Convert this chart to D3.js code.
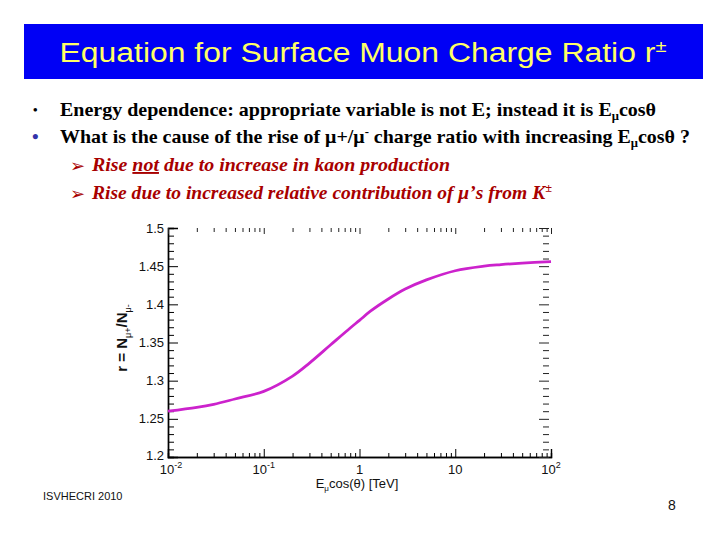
<!DOCTYPE html>
<html>
<head>
<meta charset="utf-8">
<script src="https://cdn.jsdelivr.net/npm/d3@7"></script>
<style>
  html,body{margin:0;padding:0;background:#fff;}
  svg{display:block;}
</style>
</head>
<body>
<svg id="chart" width="720" height="540"></svg>
<script>
// ---- data ----
const energies = [0.01, 0.02, 0.03, 0.05, 0.1, 0.2, 0.3, 0.5, 0.8, 1, 1.3, 2, 3, 5, 10, 20, 30, 50, 100];
const ratios   = [1.260, 1.265, 1.269, 1.276, 1.286, 1.306, 1.323, 1.347, 1.369, 1.379, 1.391, 1.407, 1.420, 1.432, 1.444, 1.450, 1.452, 1.454, 1.456];
const xMajorTicks = [0.01, 0.1, 1, 10, 100];
const xTickLabels = [["10","-2"],["10","-1"],["1",""],["10",""],["10","2"]];
const yMajorTicks = [1.2, 1.25, 1.3, 1.35, 1.4, 1.45, 1.5];
const yTickLabels = ["1.2","1.25","1.3","1.35","1.4","1.45","1.5"];

const svg = d3.select("#chart");

// ---- title bar ----
svg.append("rect").attr("x",24).attr("y",24).attr("width",679).attr("height",55).attr("fill","#0000F5");
const tt = svg.append("text").attr("x",363).attr("y",62).attr("text-anchor","middle")
  .attr("font-family","Liberation Sans, Arial, sans-serif").attr("font-size",27).attr("fill","#FFFF66")
  .attr("textLength",607).attr("lengthAdjust","spacingAndGlyphs");
tt.append("tspan").text("Equation for Surface Muon Charge Ratio r");
tt.append("tspan").attr("font-size",17).attr("dy",-10).text("±");

// ---- bullet text ----
const serif = "Liberation Serif, Times New Roman, serif";
svg.append("text").attr("x",33).attr("y",114).attr("font-family",serif).attr("font-size",13).attr("font-weight","bold").text("•");
svg.append("text").attr("x",32).attr("y",143).attr("font-family",serif).attr("font-size",19).attr("font-weight","bold").attr("fill","#3333aa").text("•");

const l1 = svg.append("text").attr("x",60).attr("y",116).attr("font-family",serif).attr("font-size",19).attr("font-weight","bold")
  .attr("textLength",596).attr("lengthAdjust","spacingAndGlyphs");
l1.append("tspan").text("Energy dependence: appropriate variable  is not E; instead it is E");
l1.append("tspan").attr("font-size",12).attr("dy",4).text("μ");
l1.append("tspan").attr("dy",-4).text("cosθ");

const l2 = svg.append("text").attr("x",60).attr("y",143).attr("font-family",serif).attr("font-size",19).attr("font-weight","bold")
  .attr("textLength",630).attr("lengthAdjust","spacingAndGlyphs");
l2.append("tspan").text("What is the cause of the rise of μ+/μ");
l2.append("tspan").attr("font-size",12).attr("dy",-7).text("-");
l2.append("tspan").attr("dy",7).text(" charge ratio with increasing E");
l2.append("tspan").attr("font-size",12).attr("dy",4).text("μ");
l2.append("tspan").attr("dy",-4).text("cosθ ?");

const red = "#A80000";
svg.append("text").attr("x",70).attr("y",172).attr("font-family","DejaVu Sans, sans-serif").attr("font-size",18).attr("fill",red).text("➢");
svg.append("text").attr("x",70).attr("y",200).attr("font-family","DejaVu Sans, sans-serif").attr("font-size",18).attr("fill",red).text("➢");

const l3 = svg.append("text").attr("x",92).attr("y",171).attr("font-family",serif).attr("font-size",19).attr("font-weight","bold")
  .attr("font-style","italic").attr("fill",red).attr("textLength",358).attr("lengthAdjust","spacingAndGlyphs");
l3.append("tspan").text("Rise ");
l3.append("tspan").attr("text-decoration","underline").text("not");
l3.append("tspan").text(" due to increase in kaon production");

const l4 = svg.append("text").attr("x",92).attr("y",199).attr("font-family",serif).attr("font-size",19).attr("font-weight","bold")
  .attr("font-style","italic").attr("fill",red).attr("textLength",460).attr("lengthAdjust","spacingAndGlyphs");
l4.append("tspan").text("Rise due to increased relative contribution of μ’s from K");
l4.append("tspan").attr("font-size",12).attr("dy",-7).text("±");

// ---- chart ----
const x = d3.scaleLog().domain([0.01,100]).range([168,551]);
const y = d3.scaleLinear().domain([1.2,1.5]).range([457,228]);
const sans = "Liberation Sans, Arial, sans-serif";

const xMinor = x.ticks().filter(v => !xMajorTicks.some(m => Math.abs(m - v) < 1e-9));
const yMinor = d3.range(0,31).map(i => +(1.2 + i*0.01).toFixed(2)).filter(v => !yMajorTicks.some(m => Math.abs(m - v) < 1e-9));

// bottom axis (ticks inward)
const gB = svg.append("g").attr("transform",`translate(0,${y.range()[0]})`);
gB.call(d3.axisBottom(x).tickValues(xMinor).tickSize(-4).tickFormat(""));
gB.append("g").call(d3.axisBottom(x).tickValues(xMajorTicks).tickSize(-8).tickFormat(""));
gB.selectAll(".domain").attr("stroke","#000").attr("stroke-width",1.4);
gB.selectAll(".tick line").attr("stroke","#000");
// bottom labels
xMajorTicks.forEach((v,i) => {
  const t = svg.append("text").attr("x",x(v) + (i===0 ? 3 : 0)).attr("y",474).attr("text-anchor","middle")
    .attr("font-family",sans).attr("font-size",13).attr("fill","#111");
  t.append("tspan").text(xTickLabels[i][0]);
  if (xTickLabels[i][1]) t.append("tspan").attr("font-size",9).attr("dy",-6).text(xTickLabels[i][1]);
});

// left axis (ticks inward)
const gL = svg.append("g").attr("transform",`translate(${x.range()[0]},0)`);
gL.call(d3.axisLeft(y).tickValues(yMinor).tickSize(-6).tickFormat(""));
gL.append("g").call(d3.axisLeft(y).tickValues(yMajorTicks).tickSize(-10).tickFormat(""));
gL.selectAll(".domain").attr("stroke","#000").attr("stroke-width",1.4);
gL.selectAll(".tick line").attr("stroke","#000");
yMajorTicks.forEach((v,i) => {
  svg.append("text").attr("x",164).attr("y",y(v) - (i===0 ? 2 : 0)).attr("dy","0.35em").attr("text-anchor","end")
    .attr("font-family",sans).attr("font-size",13).attr("fill","#111").text(yTickLabels[i]);
});

// top ticks (no line)
const gT = svg.append("g").attr("transform",`translate(0,${y.range()[1]})`);
gT.call(d3.axisTop(x).tickValues(xMinor).tickSize(-4).tickFormat(""));
gT.append("g").call(d3.axisTop(x).tickValues(xMajorTicks).tickSize(-6).tickFormat(""));
gT.selectAll(".domain").remove();
gT.selectAll(".tick line").attr("stroke","#222");

// right ticks (no line)
const gR = svg.append("g").attr("transform",`translate(${x.range()[1]-2},0)`);
gR.call(d3.axisRight(y).tickValues(yMinor).tickSize(-6).tickFormat(""));
gR.append("g").call(d3.axisRight(y).tickValues(yMajorTicks).tickSize(-10).tickFormat(""));
gR.selectAll(".domain").remove();
gR.selectAll(".tick line").attr("stroke","#222");

// curve
const data = energies.map((e,i) => ({e, r: ratios[i]}));
svg.append("path").datum(data)
  .attr("d", d3.line().x(d => x(d.e)).y(d => y(d.r)).curve(d3.curveCatmullRom.alpha(0.5)))
  .attr("fill","none").attr("stroke","#CC22CC").attr("stroke-width",2.8).attr("stroke-linejoin","round");

// axis titles
const xt = svg.append("text").attr("x",357).attr("y",488).attr("text-anchor","middle")
  .attr("font-family",sans).attr("font-size",13).attr("fill","#111");
xt.append("tspan").text("E");
xt.append("tspan").attr("font-size",8).attr("dy",3).text("μ");
xt.append("tspan").attr("dy",-3).text("cos(θ) [TeV]");

const yt = svg.append("text").attr("transform","translate(127,338) rotate(-90)").attr("text-anchor","middle")
  .attr("font-family",sans).attr("font-size",15).attr("font-weight","bold").attr("fill","#111");
yt.append("tspan").text("r = N");
yt.append("tspan").attr("font-size",9).attr("font-weight","normal").attr("dy",4).text("μ+");
yt.append("tspan").attr("dy",-4).text("/N");
yt.append("tspan").attr("font-size",9).attr("font-weight","normal").attr("dy",4).text("μ-");

// footer
svg.append("text").attr("x",43).attr("y",500).attr("font-family",sans).attr("font-size",11).attr("fill","#111").text("ISVHECRI 2010");
svg.append("text").attr("x",668).attr("y",510).attr("font-family",sans).attr("font-size",14).attr("fill","#111").text("8");
</script>
</body>
</html>
